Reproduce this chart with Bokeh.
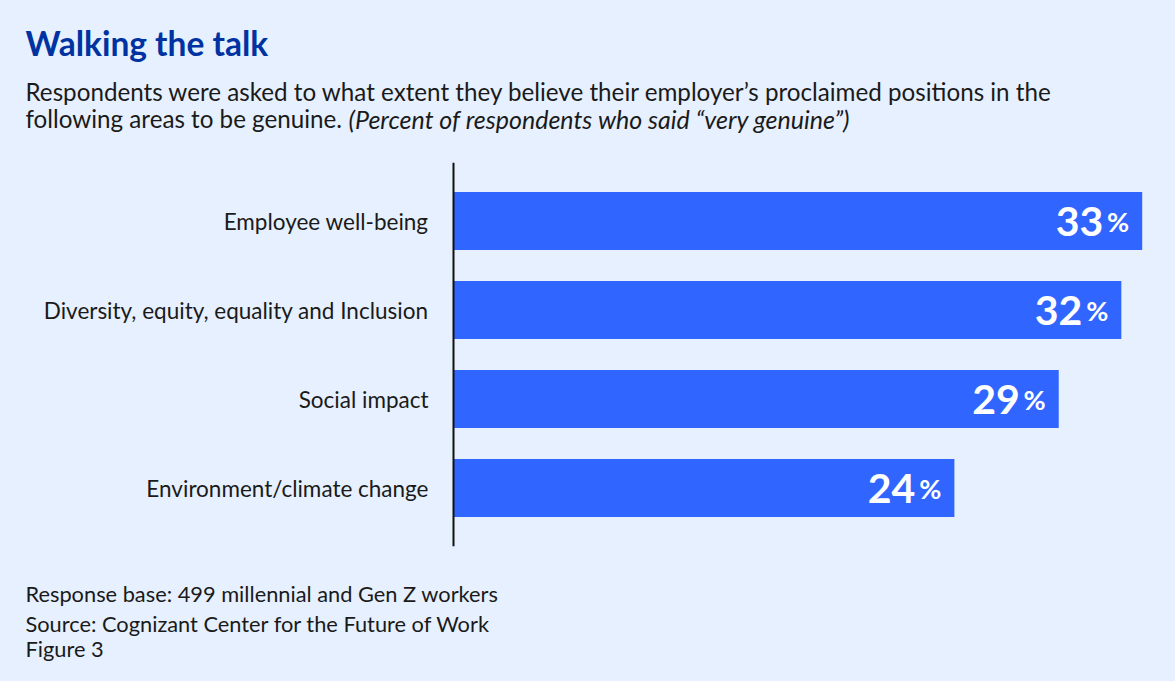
from bokeh.plotting import figure
from bokeh.models import Range1d, Label, ColumnDataSource
from bokeh.core.properties import value
from bokeh.embed import file_html
from bokeh.resources import INLINE

categories = ["Employee well-being", "Diversity, equity, equality and Inclusion",
              "Social impact", "Environment/climate change"]
values = [33, 32, 29, 24]
value_labels = ["33", "32", "29", "24"]

title = "Walking the talk"
subtitle1 = "Respondents were asked to what extent they believe their employer\u2019s proclaimed positions in the"
subtitle2a = "following areas to be genuine."
subtitle2b = "(Percent of respondents who said \u201cvery genuine\u201d)"
footer = ["Response base: 499 millennial and Gen Z workers",
          "Source: Cognizant Center for the Future of Work",
          "Figure 3"]

BG = "#E6F0FE"
BAR = "#3066FF"
TITLE_C = "#0033A1"
TXT = "#1A1A1A"
FONT = "Lato"

W, H = 1175, 681
axis_x = 453            # px from canvas left where the value axis sits
px_per_unit = 20.87     # horizontal scale
first_center = 220.5    # px from canvas top of first bar centre
band = 89.0             # px per category band
bar_h = 0.65            # bar thickness in band units
pad = 0.155             # extra band units above first / below last bar band

x0 = -axis_x / px_per_unit
x1 = (W - axis_x) / px_per_unit
y_top = -first_center / band
y_bot = y_top + H / band

p = figure(width=W, height=H, output_backend="svg", toolbar_location=None,
           x_range=Range1d(x0, x1), y_range=Range1d(y_bot, y_top),
           x_axis_location=None, y_axis_location=None,
           min_border=0, min_border_left=0, min_border_right=0,
           min_border_top=0, min_border_bottom=0)
p.background_fill_color = BG
p.border_fill_color = BG
p.outline_line_color = None
p.xgrid.visible = False
p.ygrid.visible = False

pos = list(range(len(categories)))
src = ColumnDataSource(dict(pos=pos, cat=categories, val=values, lab=value_labels,
                            pct=["%"] * len(values), zero=[0] * len(values)))
p.hbar(y="pos", right="val", left=0, height=bar_h, source=src,
       fill_color=BAR, line_color=None)

# vertical axis line
p.segment(x0=[0], x1=[0], y0=[pos[0] - 0.5 - pad], y1=[pos[-1] + 0.5 + pad],
          line_color="#111111", line_width=2)

# category labels
p.text(x="zero", y="pos", text="cat", source=src, text_align="right",
       text_baseline="middle", x_offset=-25, text_font=value(FONT),
       text_font_size="22.5px", text_color=TXT)

# value labels
p.text(x="val", y="pos", text="lab", source=src, text_align="right",
       text_baseline="middle", x_offset=-39,
       text_font=value(FONT), text_font_style="bold", text_font_size="41px",
       text_color="white")
p.text(x="val", y="pos", text="pct", source=src, text_align="right",
       text_baseline="middle", x_offset=-13,
       text_font=value(FONT), text_font_style="bold", text_font_size="27px",
       text_color="white")

def lab(text, x, y_from_top, size, color=TXT, style="normal"):
    p.add_layout(Label(x=x, y=H - y_from_top, x_units="screen", y_units="screen",
                       text=text, text_font=FONT, text_font_size=size,
                       text_color=color, text_font_style=style,
                       text_baseline="alphabetic"))

lab(title, 25, 42, "33.5px", TITLE_C, "bold")
lab(subtitle1, 25, 91, "24.2px")
lab(subtitle2a, 25, 118, "24.2px")
lab(subtitle2b, 348, 118, "25px", TXT, "italic")
for i, t in enumerate(footer):
    lab(t, 25, [593, 623, 648][i], "21.8px")

html = file_html(p, INLINE)
html = html.replace("<head>", "<head><style>html,body{background:%s;}</style>" % BG, 1)
open("out.html", "w").write(html)
